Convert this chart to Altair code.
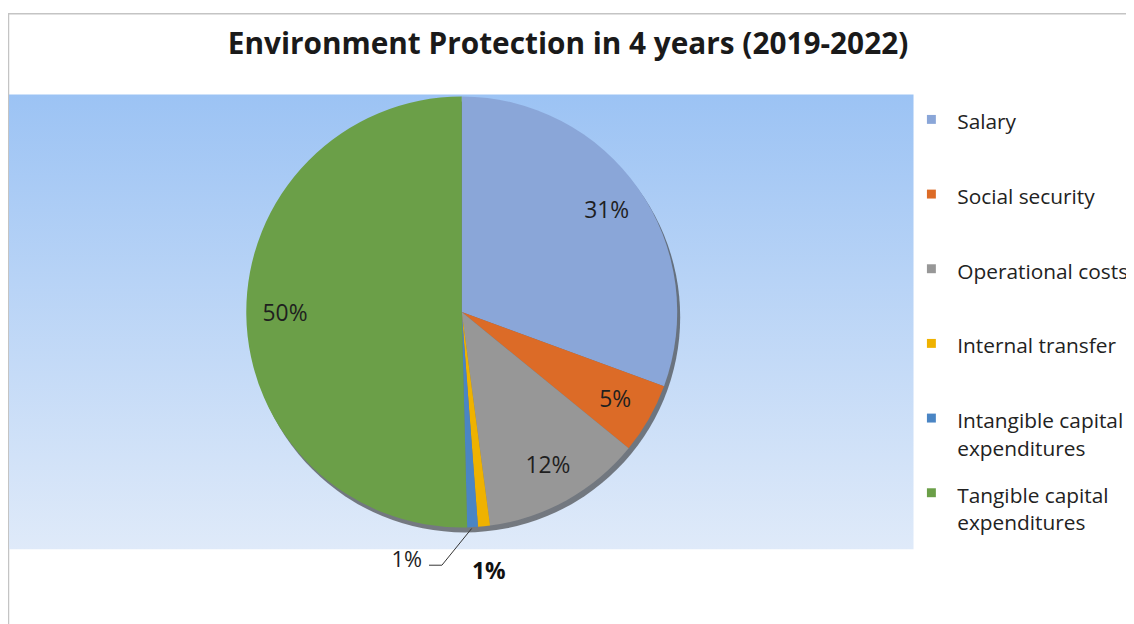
import altair as alt
import pandas as pd

# ---- data ----
categories = ["Salary", "Social security", "Operational costs", "Internal transfer",
              "Intangible capital expenditures", "Tangible capital expenditures"]
values = [30.6, 5.3, 12.0, 0.9, 0.8, 50.4]
pct_labels = ["31%", "5%", "12%", "1%", "1%", "50%"]
legend_labels = ["Salary", "Social security", "Operational costs", "Internal transfer",
                 "Intangible capital\nexpenditures", "Tangible capital\nexpenditures"]
colors = ["#8aa6d8", "#dc6b27", "#979797", "#efb200", "#4a85c4", "#6b9f48"]
title_text = "Environment Protection in 4 years (2019-2022)"

df = pd.DataFrame({
    "idx": list(range(len(categories))),
    "category": categories,
    "value": values,
    "label": pct_labels,
    "legend": legend_labels,
})

FONT = "Open Sans"
CX, CY, R = 457, 304, 217
color_scale = alt.Scale(domain=categories, range=colors)
one = alt.Data(values=[{}])

base = alt.Chart(df)

frame = alt.Chart(one).mark_rect(fillOpacity=0, stroke="#c4c4c4", strokeWidth=1.5).encode(
    x=alt.value(0.5), x2=alt.value(3000), y=alt.value(3.5), y2=alt.value(3000))

bg = alt.Chart(one).mark_rect(
    color=alt.Gradient(gradient="linear",
                       stops=[alt.GradientStop(color="#9cc3f4", offset=0),
                              alt.GradientStop(color="#dfeaf9", offset=1)],
                       x1=0, x2=0, y1=0, y2=1)
).encode(x=alt.value(1), x2=alt.value(912), y=alt.value(85), y2=alt.value(543))

title = alt.Chart(one).mark_text(
    text=title_text, font=FONT, fontSize=30, fontWeight="bold", color="#1a1a1a",
    align="center", baseline="alphabetic"
).encode(x=alt.value(564), y=alt.value(44))

shadow = alt.Chart(one).mark_arc(
    theta=0, theta2=6.2832, radius=R, color="#2f2f2f", opacity=0.6
).encode(x=alt.value(CX + 3), y=alt.value(CY + 5))

pie = base.mark_arc(radius=R).encode(
    x=alt.value(CX), y=alt.value(CY),
    theta=alt.Theta("value:Q", stack=True),
    color=alt.Color("category:N", scale=color_scale, legend=None),
    order=alt.Order("idx:Q"),
)

big_labels = base.transform_calculate(
    t="(datum.idx == 3 || datum.idx == 4) ? '' : datum.label"
).mark_text(radius=178, font=FONT, fontSize=23, color="#1f1f1f").encode(
    x=alt.value(CX), y=alt.value(CY),
    theta=alt.Theta("value:Q", stack=True),
    order=alt.Order("idx:Q"),
    text="t:N",
)

internal_label = base.transform_calculate(
    t="datum.idx == 3 ? datum.label : ''"
).mark_text(radius=263, font=FONT, fontSize=23, fontWeight="bold",
            color="#111111").encode(
    x=alt.value(CX), y=alt.value(CY),
    theta=alt.Theta("value:Q", stack=True),
    order=alt.Order("idx:Q"),
    text="t:N",
)

intangible_label = base.transform_calculate(
    t="datum.idx == 4 ? datum.label : ''"
).mark_text(radius=250, dx=-68, font=FONT, fontSize=22, color="#1f1f1f").encode(
    x=alt.value(CX), y=alt.value(CY),
    theta=alt.Theta("value:Q", stack=True),
    order=alt.Order("idx:Q"),
    text="t:N",
)

leader1 = alt.Chart(one).mark_rule(color="#333333", strokeWidth=1).encode(
    x=alt.value(467), y=alt.value(522), x2=alt.value(437), y2=alt.value(559))
leader2 = alt.Chart(one).mark_rule(color="#333333", strokeWidth=1).encode(
    x=alt.value(437), y=alt.value(559), x2=alt.value(424), y2=alt.value(559))

leg_y = alt.Y("category:N", sort=categories, axis=None,
              scale=alt.Scale(range=[110, 486], padding=0))

legend_sq = base.mark_square(size=81, opacity=1).encode(
    x=alt.value(930), y=leg_y,
    color=alt.Color("category:N", scale=color_scale, legend=None),
)
legend_txt = base.mark_text(
    align="left", baseline="alphabetic", dy=10, font=FONT, fontSize=21,
    lineBreak="\n", lineHeight=28, color="#222222"
).encode(x=alt.value(956), y=leg_y, text="legend:N")

chart = alt.layer(
    frame, bg, title, shadow, pie, big_labels, internal_label, intangible_label,
    leader1, leader2, legend_sq, legend_txt
).properties(
    width=1126, height=616, padding=0,
    autosize=alt.AutoSizeParams(type="none"),
    background="white",
).configure_view(stroke=None)

chart.save("out.html", embed_options={"renderer": "svg", "actions": False})
